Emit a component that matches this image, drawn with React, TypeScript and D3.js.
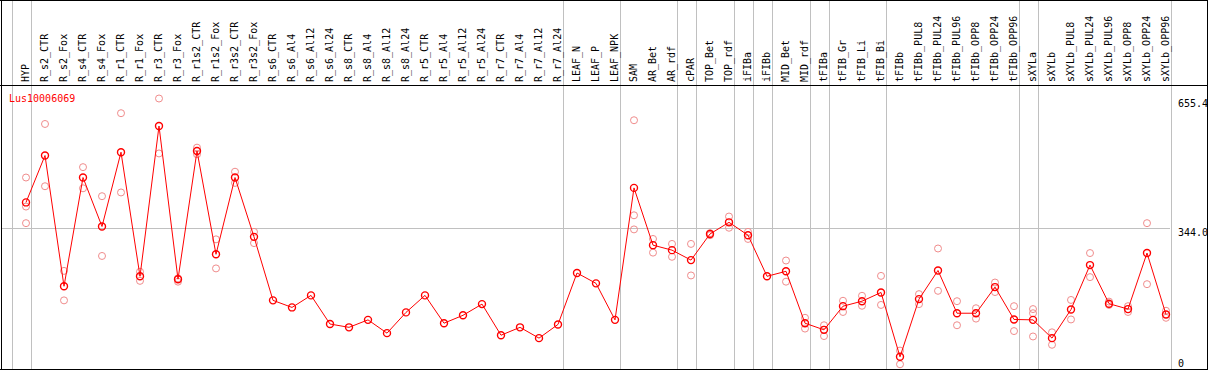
import React from "react";
import * as d3 from "d3";

const geneId = "Lus10006069";

const categories = [
  "HYP", "R_s2_CTR", "R_s2_Fox", "R_s4_CTR", "R_s4_Fox", "R_r1_CTR", "R_r1_Fox", "R_r3_CTR", "R_r3_Fox",
  "R_r1s2_CTR", "R_r1s2_Fox", "R_r3s2_CTR", "R_r3s2_Fox", "R_s6_CTR", "R_s6_Al4", "R_s6_Al12", "R_s6_Al24",
  "R_s8_CTR", "R_s8_Al4", "R_s8_Al12", "R_s8_Al24", "R_r5_CTR", "R_r5_Al4", "R_r5_Al12", "R_r5_Al24",
  "R_r7_CTR", "R_r7_Al4", "R_r7_Al12", "R_r7_Al24", "LEAF_N", "LEAF_P", "LEAF_NPK", "SAM", "AR_Bet", "AR_rdf",
  "cPAR", "TOP_Bet", "TOP_rdf", "iFIBa", "iFIBb", "MID_Bet", "MID_rdf", "tFIBa", "tFIB_Gr", "tFIB_Li", "tFIB_Bi",
  "tFIBb", "tFIBb_PUL8", "tFIBb_PUL24", "tFIBb_PUL96", "tFIBb_OPP8", "tFIBb_OPP24", "tFIBb_OPP96",
  "sXYLa", "sXYLb", "sXYLb_PUL8", "sXYLb_PUL24", "sXYLb_PUL96", "sXYLb_OPP8", "sXYLb_OPP24", "sXYLb_OPP96",
];

const meanValues = [
  405, 518, 203, 465, 347, 526, 227, 589, 220,
  529, 280, 465, 322, 169, 152, 181, 112,
  104, 122, 90, 140, 181, 114, 133, 160,
  85, 104, 78, 111, 235, 210, 122, 440, 302, 290,
  266, 329, 357, 326, 227, 239, 114, 98, 155, 167, 188,
  33, 172, 241, 138, 138, 201, 123,
  122, 78, 147, 254, 161, 148, 283, 135,
];

const replicateValues: number[][] = [
  [465, 395, 355], [594, 444], [240, 169], [490, 439], [420, 276], [620, 429], [238, 216], [655.4, 523], [222, 214],
  [537, 521], [316, 246], [479, 452], [334, 307], [], [], [], [],
  [], [], [], [], [], [], [], [],
  [], [], [], [], [], [], [], [603, 374, 340], [317, 284], [305, 274],
  [305, 229], [331, 326], [371, 344], [334, 317], [], [265, 214], [127, 101], [109, 83], [168, 141], [180, 156], [228, 158],
  [48, 15], [184, 160], [294, 192], [167, 109], [150, 125], [212, 189], [155, 95],
  [148, 138, 82], [92, 62], [170, 123], [283, 225], [166, 158], [155, 141], [355, 208], [144, 127],
];

const groupEnds = [
  "HYP", "R_r7_Al24", "LEAF_NPK", "AR_rdf", "cPAR", "TOP_rdf", "iFIBa", "iFIBb", "MID_rdf",
  "tFIBa", "tFIB_Bi", "tFIBb_OPP96", "sXYLa", "sXYLb_OPP96",
];

const axisMax = 655.4;
const axisMid = 344.0;
const axisTicks = [axisMax, axisMid, 0];

const W = 1209;
const H = 370;
const FONT = "'DejaVu Sans Mono', monospace";

export default function App() {
  const x = d3.scalePoint<string>().domain(categories).range([26, 1166]);
  const step = x.step();
  const y = d3.scaleLinear().domain([0, axisMax]).range([370.5, 98.5]);

  const line = d3
    .line<number>()
    .x((_, i) => x(categories[i])!)
    .y((d) => y(d));

  const sepXs = [x(categories[0])! - step + 4.5, ...groupEnds.map((g) => x(g)! + 4.5)];

  return (
    <div style={{ position: "absolute", left: 0, top: 0 }}>
      <svg width={W} height={H} style={{ display: "block", background: "#fff" }}>
        <rect x={0} y={0} width={W} height={H} fill="#fff" />
        {/* vertical group separators */}
        {sepXs.map((sx, i) => (
          <line key={"s" + i} x1={Math.round(sx) + 0.5} x2={Math.round(sx) + 0.5} y1={0} y2={369}
            stroke="#c0c0c0" strokeWidth={1} shapeRendering="crispEdges" />
        ))}
        {/* horizontal mid line */}
        <line x1={1} x2={1170} y1={Math.round(y(axisMid)) + 0.5} y2={Math.round(y(axisMid)) + 0.5}
          stroke="#c0c0c0" strokeWidth={1} shapeRendering="crispEdges" />
        {/* borders */}
        <line x1={0} x2={1208} y1={0.5} y2={0.5} stroke="#000" shapeRendering="crispEdges" />
        <line x1={0} x2={1208} y1={85.5} y2={85.5} stroke="#000" shapeRendering="crispEdges" />
        <line x1={1.5} x2={1.5} y1={0} y2={370} stroke="#000" shapeRendering="crispEdges" />
        <line x1={1207.5} x2={1207.5} y1={0} y2={370} stroke="#000" shapeRendering="crispEdges" />
        <line x1={0} x2={1208} y1={369.5} y2={369.5} stroke="#000" shapeRendering="crispEdges" />
        {/* header labels */}
        {categories.map((c) => (
          <text key={c} transform={`translate(${x(c)! + 3},82) rotate(-90)`} fontFamily={FONT} fontSize={10}
            fill="#000" textAnchor="start">
            {c}
          </text>
        ))}
        {/* title */}
        <text x={9} y={101.5} fontFamily={FONT} fontSize={10} fill="#ff0000">{geneId}</text>
        {/* right axis labels */}
        {axisTicks.map((t) => {
          const ty = Math.min(y(t) + 8.5, 366.5);
          return (
            <text key={t} x={1178} y={ty} fontFamily={FONT} fontSize={10} fill="#000">
              {t === 0 ? "0" : t.toFixed(1)}
            </text>
          );
        })}
        {/* replicates */}
        {replicateValues.map((reps, i) =>
          reps.map((v, j) => (
            <circle key={`r${i}-${j}`} cx={x(categories[i])!} cy={y(v)} r={3.5} fill="none"
              stroke="#f08c8c" strokeWidth={1} />
          ))
        )}
        {/* mean line */}
        <path d={line(meanValues)!} fill="none" stroke="#ff0000" strokeWidth={1} />
        {/* mean markers */}
        {meanValues.map((v, i) => (
          <circle key={"m" + i} cx={x(categories[i])!} cy={y(v)} r={3.5} fill="none" stroke="#ff0000"
            strokeWidth={1.4} />
        ))}
      </svg>
    </div>
  );
}
